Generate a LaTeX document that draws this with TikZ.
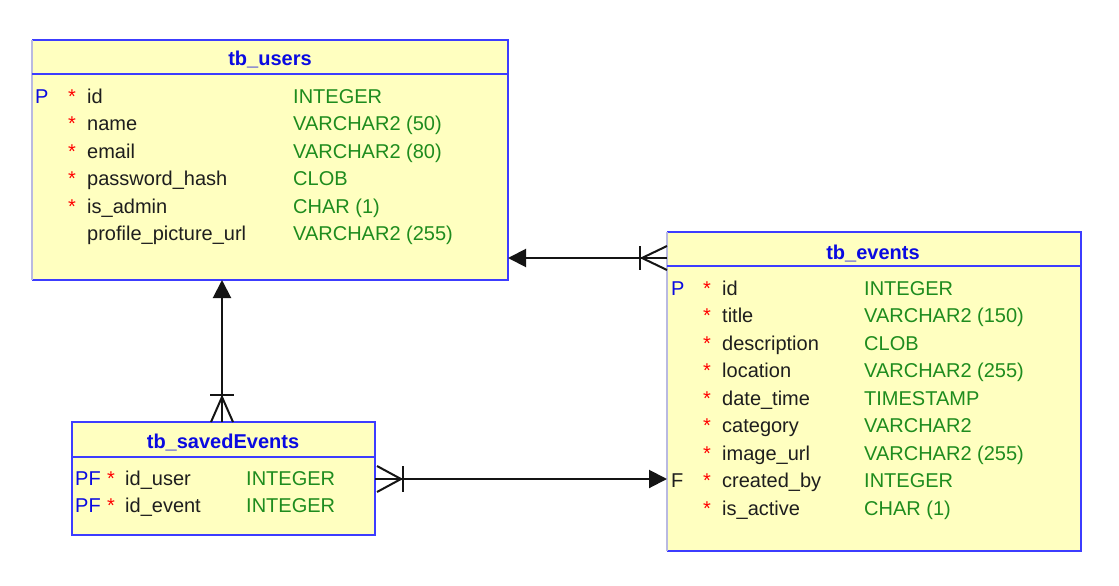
\documentclass[tikz,border=0pt]{standalone}
\usepackage{fontspec}
\setmainfont{Liberation Sans}
\usetikzlibrary{arrows.meta,calc}
\definecolor{tfill}{RGB}{255,255,192}
\definecolor{tblue}{RGB}{60,60,255}
\definecolor{tlav}{RGB}{185,185,225}
\definecolor{ttitle}{RGB}{10,10,225}
\definecolor{tgreen}{RGB}{30,140,30}
\definecolor{tname}{RGB}{30,30,30}
\definecolor{trel}{RGB}{20,20,20}
\begin{document}
\begin{tikzpicture}[x=1pt,y=-1pt,font=\fontsize{20}{24}\selectfont,
  tbl/.style={fill=tfill,draw=none,inner sep=0pt,outer sep=0pt},
  txt/.style={anchor=base west,inner sep=0pt,text=tname},
  typ/.style={anchor=base west,inner sep=0pt,text=tgreen},
  keyt/.style={anchor=base west,inner sep=0pt,text=ttitle},
  star/.style={anchor=base west,inner sep=0pt,text=red},
  ttl/.style={anchor=base,inner sep=0pt,text=ttitle,font=\fontsize{20}{24}\selectfont\bfseries},
  edge/.style={line width=2pt,draw=tblue},
  ledge/.style={line width=1.5pt,draw=tlav},
  rel/.style={line width=2pt,draw=trel},
  tip/.style={-{Triangle[length=18pt,width=18pt]}}]
\useasboundingbox[fill=white] (0,0) rectangle (1119,586);

% ---------- tables ----------
\node[tbl,minimum width=476pt,minimum height=240pt] (users) at (270,160) {};
\node[tbl,minimum width=414pt,minimum height=319pt] (events) at (874,391.5) {};
\node[tbl,minimum width=303pt,minimum height=113pt] (saved) at (223.5,478.5) {};

% borders
\draw[edge] (users.north west) -- (users.north east) -- (users.south east) -- (users.south west);
\draw[ledge] (users.south west) -- (users.north west);
\draw[edge] ([yshift=-34pt]users.north west) -- ([yshift=-34pt]users.north east);

\draw[edge] (events.north west) -- (events.north east) -- (events.south east) -- (events.south west);
\draw[ledge] (events.south west) -- (events.north west);
\draw[edge] ([yshift=-34pt]events.north west) -- ([yshift=-34pt]events.north east);

\draw[edge] (saved.north west) rectangle (saved.south east);
\draw[edge] ([yshift=-35pt]saved.north west) -- ([yshift=-35pt]saved.north east);

% titles
\node[ttl] (usersT) at (270,66) {tb\_users};
\node[ttl] (eventsT) at (873,259) {tb\_events};
\node[ttl] (savedT) at (223,448) {tb\_savedEvents};

% tb_users rows
\node[keyt] (uP) at (35,103) {P};
\foreach [count=\k] \nm/\ty/\st in {id/INTEGER/1, name/VARCHAR2 (50)/1, email/VARCHAR2 (80)/1,
  password\_hash/CLOB/1, is\_admin/CHAR (1)/1, profile\_picture\_url/VARCHAR2 (255)/0}{
  \pgfmathsetmacro\yy{103+27.5*(\k-1)}
  \node[txt] (un\k) at (87,\yy) {\nm};
  \node[typ] (ut\k) at (293,\yy) {\ty};
  \ifnum\st=1 \node[star] (us\k) at (68,\yy) {*};\fi
}

% tb_events rows
\node[keyt] (eP) at (671,295) {P};
\node[txt] (eF) at (671,487.5) {F};
\foreach [count=\k] \nm/\ty in {id/INTEGER, title/VARCHAR2 (150), description/CLOB,
  location/VARCHAR2 (255), date\_time/TIMESTAMP, category/VARCHAR2, image\_url/VARCHAR2 (255),
  created\_by/INTEGER, is\_active/CHAR (1)}{
  \pgfmathsetmacro\yy{295+27.5*(\k-1)}
  \node[star] (es\k) at (703,\yy) {*};
  \node[txt] (en\k) at (722,\yy) {\nm};
  \node[typ] (et\k) at (864,\yy) {\ty};
}

% tb_savedEvents rows
\foreach [count=\k] \nm in {id\_user, id\_event}{
  \pgfmathsetmacro\yy{485+27.5*(\k-1)}
  \node[keyt] (sP\k) at (75,\yy) {PF};
  \node[star] (ss\k) at (107,\yy) {*};
  \node[txt] (sn\k) at (125,\yy) {\nm};
  \node[typ] (st\k) at (246,\yy) {INTEGER};
}

% ---------- relations ----------
% tb_events -> tb_users
\coordinate (r1a) at ([yshift=133.5pt]events.west);
\coordinate (r1b) at ([yshift=-98pt]users.east);
\draw[rel,tip] (r1a) -- (r1b);
\draw[rel] ($(r1a)+(-27,-12)$) -- ($(r1a)+(-27,12)$);
\draw[rel] ($(r1a)+(-25,0)$) -- ($(r1a)+(0,-12)$);
\draw[rel] ($(r1a)+(-25,0)$) -- ($(r1a)+(0,12)$);

% tb_savedEvents -> tb_users
\coordinate (r2a) at ([xshift=-1.5pt]saved.north);
\coordinate (r2b) at ([xshift=-48pt]users.south);
\draw[rel,tip] (r2a) -- (r2b);
\draw[rel] ($(r2a)+(-12,-27)$) -- ($(r2a)+(12,-27)$);
\draw[rel] ($(r2a)+(0,-25)$) -- ($(r2a)+(-11,0)$);
\draw[rel] ($(r2a)+(0,-25)$) -- ($(r2a)+(11,0)$);

% tb_savedEvents -> tb_events
\coordinate (r3a) at ([yshift=-0.5pt]saved.east);
\coordinate (r3b) at ([yshift=-87.5pt]events.west);
\draw[rel,tip] (r3a) -- (r3b);
\draw[rel] ($(r3a)+(28,-13)$) -- ($(r3a)+(28,13)$);
\draw[rel] ($(r3a)+(26,0)$) -- ($(r3a)+(2,-13)$);
\draw[rel] ($(r3a)+(26,0)$) -- ($(r3a)+(2,13)$);
\end{tikzpicture}
\end{document}
